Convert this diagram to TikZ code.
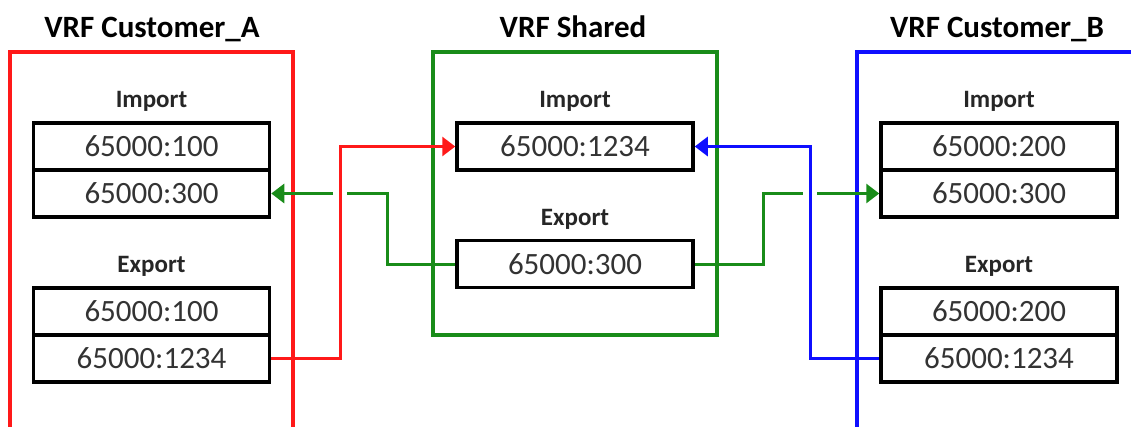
\documentclass[tikz,border=0pt]{standalone}
\usepackage{fontspec}
\setmainfont{Carlito}
\usetikzlibrary{arrows.meta, positioning}
\definecolor{vrfred}{RGB}{255,25,25}
\definecolor{vrfgreen}{RGB}{25,140,25}
\definecolor{vrfblue}{RGB}{15,15,255}

\begin{document}
\begin{tikzpicture}[x=1pt, y=-1pt,
    wall/.style={line width=3.5pt},
    rt/.style={draw, line width=3.5pt, minimum width=236pt, minimum height=47pt, inner sep=0pt,
        text=black!80, font=\fontsize{31}{36}\selectfont},
    hdr/.style={font=\bfseries\fontsize{31}{36}\selectfont, anchor=base},
    lbl/.style={font=\bfseries\fontsize{25}{30}\selectfont, text=black!85, anchor=base},
    wire/.style={line width=3pt, -{Triangle[length=13pt, width=19pt]}}]

\clip (0,0) rectangle (1131,426);

% the three VRF frames
\draw [wall, vrfred]   (10,52) rectangle (293,440);
\draw [wall, vrfgreen] (433,52) rectangle (717,335);
\draw [wall, vrfblue]  (857,52) rectangle (1140,440);

\node [hdr] (caTitle) at (152,37) {VRF Customer\_A};
\node [hdr] (shTitle) at (573,37) {VRF Shared};
\node [hdr] (cbTitle) at (997,37) {VRF Customer\_B};

\node [lbl] (caImpLbl) at (151.5,107) {Import};
\node [lbl] (caExpLbl) at (151.5,272) {Export};
\node [lbl] (shImpLbl) at (575,107) {Import};
\node [lbl] (shExpLbl) at (575,225) {Export};
\node [lbl] (cbImpLbl) at (999,107) {Import};
\node [lbl] (cbExpLbl) at (999,272) {Export};

% route targets
\node [rt] (caImp1) at (151.5,146.5) {65000:100};
\node [rt, below=-3.5pt of caImp1] (caImp2) {65000:300};
\node [rt] (caExp1) at (151.5,311.5) {65000:100};
\node [rt, below=-3.5pt of caExp1] (caExp2) {65000:1234};

\node [rt] (shImp) at (575,146.5) {65000:1234};
\node [rt] (shExp) at (575,264) {65000:300};

\node [rt] (cbImp1) at (999,146.5) {65000:200};
\node [rt, below=-3.5pt of cbImp1] (cbImp2) {65000:300};
\node [rt] (cbExp1) at (999,311.5) {65000:200};
\node [rt, below=-3.5pt of cbExp1] (cbExp2) {65000:1234};

\coordinate (redx)  at (340,0);
\coordinate (grnL)  at (387,0);
\coordinate (grnR)  at (763,0);
\coordinate (bluex) at (810,0);

% shared export, broken where it hops the other wires
\draw [wire, vrfgreen] (shExp.west) -| (grnL |- caImp2.east) -- ([xshift=7pt]redx |- caImp2.east)
    ([xshift=-7pt]redx |- caImp2.east) -- (caImp2.east);
\draw [wire, vrfgreen] (shExp.east) -| (grnR |- cbImp2.west) -- ([xshift=-7pt]bluex |- cbImp2.west)
    ([xshift=7pt]bluex |- cbImp2.west) -- (cbImp2.west);

\draw [wire, vrfred]  (caExp2.east) -| (redx |- shImp.west) -- (shImp.west);
\draw [wire, vrfblue] (cbExp2.west) -| (bluex |- shImp.east) -- (shImp.east);

\end{tikzpicture}
\end{document}
